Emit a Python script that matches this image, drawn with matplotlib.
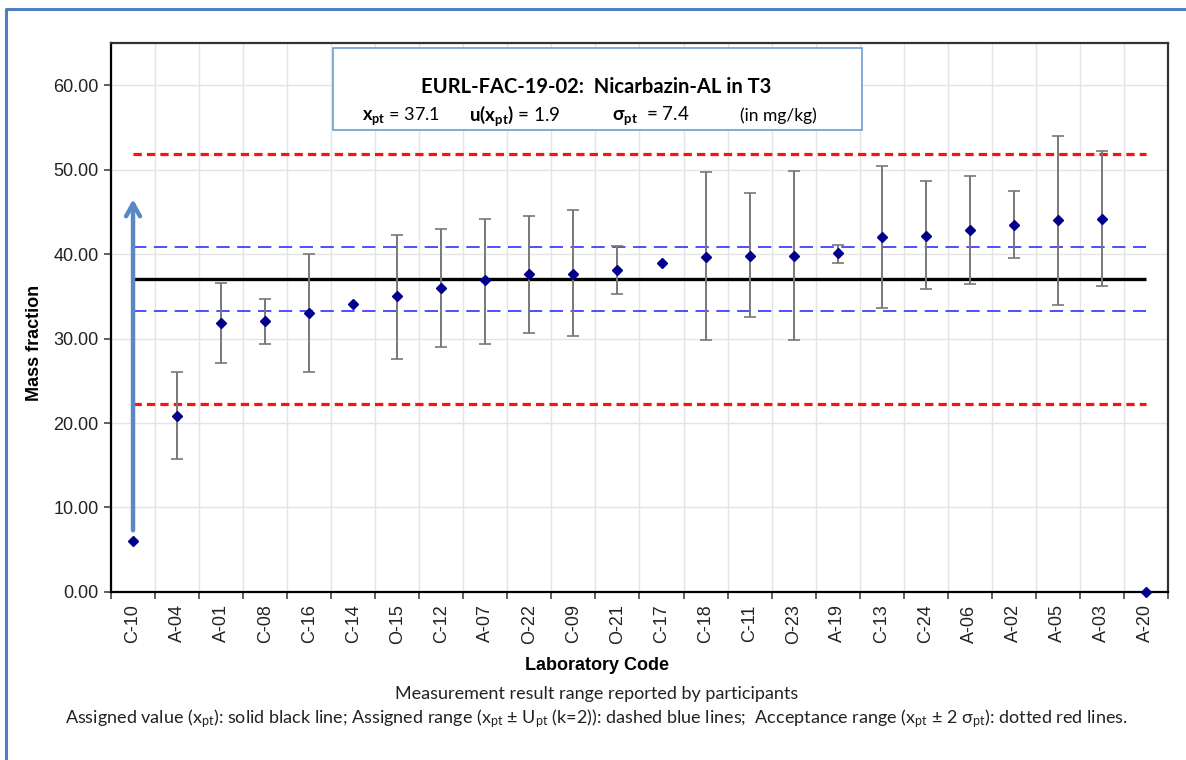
import matplotlib

matplotlib.use("Agg")
import matplotlib.pyplot as plt
import numpy as np
from matplotlib.lines import Line2D
from matplotlib.patches import Rectangle

# participant results (mg/kg) with reported measurement ranges
labs = ["C-10", "A-04", "A-01", "C-08", "C-16", "C-14", "O-15", "C-12", "A-07",
        "O-22", "C-09", "O-21", "C-17", "C-18", "C-11", "O-23", "A-19", "C-13",
        "C-24", "A-06", "A-02", "A-05", "A-03", "A-20"]
values = [6.0, 20.8, 31.8, 32.1, 33.0, 34.1, 35.0, 36.0, 36.9, 37.7, 37.7, 38.1,
          39.0, 39.7, 39.8, 39.8, 40.1, 42.0, 42.2, 42.8, 43.5, 44.0, 44.2, 0.0]
low = [np.nan, 15.7, 27.1, 29.4, 26.1, np.nan, 27.6, 29.0, 29.4, 30.7, 30.3, 35.3,
       np.nan, 29.8, 32.5, 29.8, 38.9, 33.6, 35.9, 36.5, 39.5, 34.0, 36.2, np.nan]
high = [np.nan, 26.1, 36.6, 34.7, 40.0, np.nan, 42.3, 43.0, 44.2, 44.5, 45.2, 41.0,
        np.nan, 49.7, 47.2, 49.8, 41.1, 50.4, 48.7, 49.3, 47.5, 54.0, 52.2, np.nan]

x_pt = 37.1
u_pt = 1.9
U_pt = 3.8
sigma_pt = 7.4
arrow_from, arrow_to = 7.3, 46.5

SANS = "Liberation Sans"
CAL = "Lato"
plt.rcParams["font.family"] = SANS
plt.rcParams["mathtext.fontset"] = "custom"
plt.rcParams["mathtext.rm"] = CAL
plt.rcParams["mathtext.it"] = CAL
plt.rcParams["mathtext.bf"] = CAL + ":bold"

fig = plt.figure(figsize=(11.86, 7.6), dpi=100, facecolor="white")
ax = fig.add_axes([0.0936, 0.2211, 0.8912, 0.7224])

x = np.arange(len(labs))
vals = np.array(values)
lo = np.array(low)
hi = np.array(high)
yerr = np.vstack([vals - lo, hi - vals])

# reference lines
ax.hlines([x_pt - 2 * sigma_pt, x_pt + 2 * sigma_pt], 0, len(labs) - 1,
          colors="#ff1010", linewidth=2.3, linestyles=(0, (2.6, 1.6)), zorder=3)
ax.hlines([x_pt - U_pt, x_pt + U_pt], 0, len(labs) - 1,
          colors="#3030ff", linewidth=1.2, linestyles=(0, (8, 4.5)), zorder=3)
ax.hlines(x_pt, 0, len(labs) - 1, colors="black", linewidth=2.4, zorder=3)

ax.errorbar(x, vals, yerr=yerr, fmt="none", ecolor="#787878", elinewidth=1.4,
            capsize=4, capthick=1.2, zorder=4)
ax.plot(x, vals, linestyle="none", marker="D", markersize=5.5,
        color="#00008b", zorder=5, clip_on=False)

# C-10 is out of scale: result reported far below the others
ax.annotate("", xy=(0, arrow_to), xytext=(0, arrow_from),
            arrowprops=dict(arrowstyle="->,head_length=0.9,head_width=0.5",
                            color="#5a87c5", lw=3.2, shrinkA=0, shrinkB=0),
            zorder=6)

ax.set_xlim(-0.5, len(labs) - 0.5)
ax.set_ylim(0, 65)
ax.set_yticks(np.arange(0, 61, 10))
ax.set_yticklabels([f"{v:.2f}" for v in np.arange(0, 61, 10)], fontsize=13,
                   color="#222222")
ax.set_xticks(x)
ax.set_xticklabels(labs, rotation=90, fontsize=13, color="#222222")
ax.set_xticks(np.arange(-0.5, len(labs), 1), minor=True)
ax.tick_params(axis="x", which="major", length=0, pad=9)
ax.tick_params(axis="x", which="minor", length=5, width=1.2, color="#444444")
ax.tick_params(axis="y", length=5, width=1.2, color="#444444", pad=4)
ax.grid(axis="y", color="#e4e4e4", linewidth=1)
ax.grid(axis="x", which="minor", color="#e4e4e4", linewidth=1)
ax.set_axisbelow(True)
for side, s in ax.spines.items():
    s.set_linewidth(1.6)
    s.set_color("black" if side in ("left", "bottom") else "#333333")

fig.text(0.0295, 0.549, "Mass fraction", rotation=90, ha="center", va="center",
         fontsize=13, fontweight="bold", family=SANS)
fig.text(0.503, 0.125, "Laboratory Code", ha="center", va="center",
         fontsize=13, fontweight="bold", family=SANS)

# header box with the assigned value parameters
fig.patches.append(Rectangle((333 / 1186, 1 - 130 / 760), 529 / 1186, 82 / 760,
                             transform=fig.transFigure, facecolor="white",
                             edgecolor="#6f9bd3", linewidth=1.2, zorder=10))
fig.text(0.503, 0.8855, "EURL-FAC-19-02:  Nicarbazin-AL in T3", ha="center",
         va="center", fontsize=14.5, fontweight="bold", family=CAL, zorder=11)
row = 1 - 116 / 760
fig.text(362 / 1186, row, r"$\mathbf{x_{pt}}$ = %.1f" % x_pt, ha="left",
         va="center", fontsize=13, family=CAL, zorder=11)
fig.text(469 / 1186, row, r"$\mathbf{u(x_{pt})}$ = %.1f" % u_pt, ha="left",
         va="center", fontsize=13.5, family=CAL, zorder=11)
fig.text(612 / 1186, row, r"$\mathbf{\sigma_{pt}}$  = %.1f" % sigma_pt, ha="left",
         va="center", fontsize=13.5, family=CAL, zorder=11)
fig.text(740 / 1186, row, "(in mg/kg)", ha="left", va="center", fontsize=12.5,
         family=CAL, zorder=11)

fig.text(0.503, 0.0868, "Measurement result range reported by participants",
         ha="center", va="center", fontsize=13, family=CAL, color="#222222")
fig.text(0.503, 0.054,
         r"Assigned value (x$_{\rm pt}$): solid black line; Assigned range "
         r"(x$_{\rm pt}$ ± U$_{\rm pt}$ (k=2)): dashed blue lines;  Acceptance range "
         r"(x$_{\rm pt}$ ± 2 σ$_{\rm pt}$): dotted red lines.",
         ha="center", va="center", fontsize=13, family=CAL, color="#222222")

# outer frame (left and top edges)
fig.lines.append(Line2D([6 / 1186, 6 / 1186, 1.0], [0.0, 1 - 9 / 760, 1 - 9 / 760],
                        transform=fig.transFigure, color="#4f7fbf", linewidth=2.2))

fig.savefig("out.png", dpi=100, facecolor="white")
